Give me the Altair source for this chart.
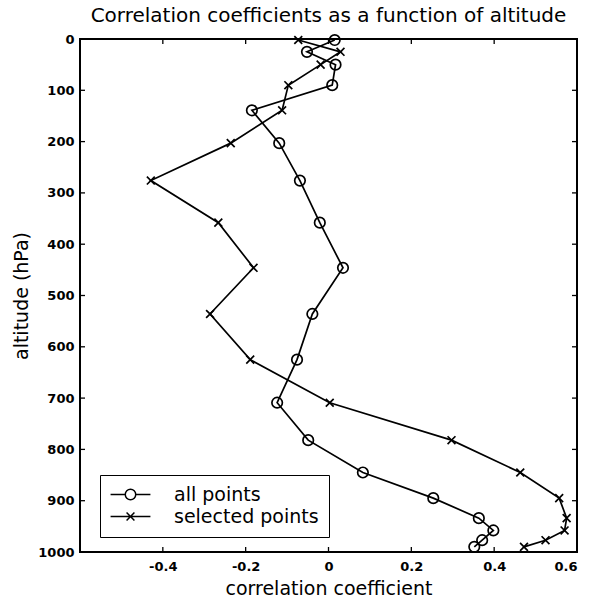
import altair as alt
import pandas as pd

# ---- data ----
altitude = [2, 25, 50, 90, 139, 203, 276, 358, 446, 536, 625, 709, 782, 845, 895, 934, 958, 977, 990]
all_points = [0.015, -0.052, 0.017, 0.009, -0.185, -0.119, -0.069, -0.021, 0.035, -0.039,
              -0.076, -0.124, -0.049, 0.083, 0.253, 0.363, 0.398, 0.371, 0.352]
selected_points = [-0.073, 0.029, -0.019, -0.097, -0.112, -0.236, -0.429, -0.266, -0.181, -0.286,
                   -0.189, 0.003, 0.297, 0.463, 0.557, 0.575, 0.570, 0.524, 0.472]
series_names = ["all points", "selected points"]
x_ticks = [-0.4, -0.2, 0, 0.2, 0.4, 0.6]
y_ticks = [0, 100, 200, 300, 400, 500, 600, 700, 800, 900, 1000]

rows = []
for a, v1, v2 in zip(altitude, all_points, selected_points):
    rows.append({"series": series_names[0], "alt": a, "r": v1})
    rows.append({"series": series_names[1], "alt": a, "r": v2})
df = pd.DataFrame(rows)
xt = pd.DataFrame({"r": x_ticks})
yt = pd.DataFrame({"alt": y_ticks})

W, H = 497, 513
FONT = "DejaVu Sans"
SW = 1.7

xscale = alt.Scale(domain=[-0.6, 0.6], nice=False, zero=False)
yscale = alt.Scale(domain=[0, 1000], reverse=True, nice=False, zero=False)

CIRCLE = "M1,0A1,1 0 1,1 -1,0A1,1 0 1,1 1,0Z"
XMARK = "M-0.75,-0.75L0.75,0.75M-0.75,0.75L0.75,-0.75"
LEG_CIRCLE = "M-3.8,0L-1,0M1,0L3.8,0M1,0A1,1 0 1,1 -1,0A1,1 0 1,1 1,0"
LEG_X = "M-3.8,0L3.8,0M-0.75,-0.75L0.75,0.75M-0.75,0.75L0.75,-0.75"

xaxis = alt.Axis(values=x_ticks, tickSize=0, domain=False, grid=False,
                 labelExpr="datum.value == 0 ? '0' : toString(round(datum.value*10)/10)",
                 labelFont=FONT, labelFontSize=13, labelFontWeight="bold", labelColor="black",
                 labelPadding=8, title="correlation coefficient", titleFont=FONT,
                 titleFontSize=19, titleFontWeight="normal", titleColor="black", titlePadding=6)
yaxis = alt.Axis(values=y_ticks, format="d", tickSize=0, domain=False, grid=False,
                 labelFont=FONT, labelFontSize=13, labelFontWeight="bold", labelColor="black",
                 labelPadding=6, title="altitude (hPa)", titleFont=FONT,
                 titleFontSize=19, titleFontWeight="normal", titleColor="black", titlePadding=6)

X = alt.X("r:Q", scale=xscale, axis=xaxis)
Y = alt.Y("alt:Q", scale=yscale, axis=yaxis)

base = alt.Chart(df)
lines = base.mark_line(color="black", strokeWidth=SW).encode(
    x=X, y=Y, detail="series:N", order="alt:Q")

pts_all = base.transform_filter(alt.datum.series == series_names[0]).mark_point(
    shape=CIRCLE, filled=False, color="black", strokeWidth=SW, size=110, opacity=1).encode(x=X, y=Y)
pts_sel = base.transform_filter(alt.datum.series == series_names[1]).mark_point(
    shape=XMARK, filled=False, color="black", strokeWidth=SW, size=110, opacity=1).encode(x=X, y=Y)

legend = alt.Legend(
    title=None, orient="none", legendX=20, legendY=436,
    strokeColor="black", fillColor="white", padding=10,
    labelFont=FONT, labelFontSize=19, labelColor="black",
    symbolSize=110, symbolStrokeWidth=1.5, symbolStrokeColor="black", symbolOpacity=1,
    symbolOffset=11, labelOffset=34, rowPadding=2,
)
# legend-only layer: no marks drawn (filtered out), the legend comes from the shape scale
legend_layer = base.transform_filter("false").mark_point(
    filled=False, color="black", strokeWidth=1.5, size=110, opacity=1).encode(
    x=X, y=Y,
    shape=alt.Shape("series:N", scale=alt.Scale(domain=series_names, range=[LEG_CIRCLE, LEG_X]),
                    legend=legend),
)

tick_top = alt.Chart(xt).mark_rule(color="black", strokeWidth=1.3).encode(
    x=X, y=alt.value(0), y2=alt.value(5))
tick_bottom = alt.Chart(xt).mark_rule(color="black", strokeWidth=1.3).encode(
    x=X, y=alt.value(H), y2=alt.value(H - 5))
tick_left = alt.Chart(yt).mark_rule(color="black", strokeWidth=1.3).encode(
    y=Y, x=alt.value(0), x2=alt.value(5))
tick_right = alt.Chart(yt).mark_rule(color="black", strokeWidth=1.3).encode(
    y=Y, x=alt.value(W), x2=alt.value(W - 5))

chart = alt.layer(lines, pts_all, pts_sel, legend_layer,
                  tick_top, tick_bottom, tick_left, tick_right).properties(
    width=W, height=H,
    title=alt.TitleParams("Correlation coefficients as a function of altitude", font=FONT,
                          fontSize=20, fontWeight="normal", color="black", anchor="middle", offset=5),
    autosize=alt.AutoSizeParams(type="none"),
    padding={"left": 80, "top": 39, "right": 12, "bottom": 49},
    background="white",
).configure_view(stroke="black", strokeWidth=2)

chart.save("out.html", embed_options={"renderer": "svg", "actions": False})
